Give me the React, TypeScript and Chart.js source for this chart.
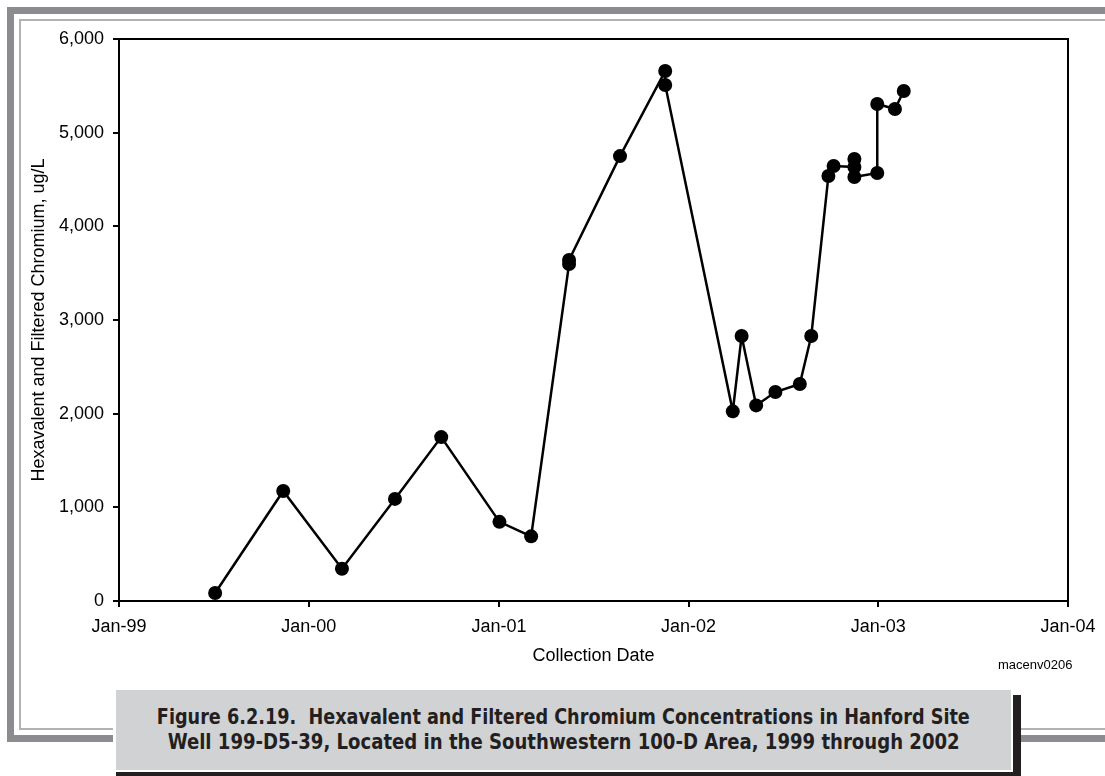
import React, { useEffect, useRef } from "react";
import { Chart, registerables } from "chart.js";

Chart.register(...registerables);

// ---- Data ----
const sampleDates = [
  "1999-07-05",
  "1999-11-13",
  "2000-03-05",
  "2000-06-15",
  "2000-09-12",
  "2001-01-02",
  "2001-03-04",
  "2001-05-16",
  "2001-05-16",
  "2001-08-22",
  "2001-11-17",
  "2001-11-17",
  "2002-03-27",
  "2002-04-13",
  "2002-05-11",
  "2002-06-17",
  "2002-08-03",
  "2002-08-25",
  "2002-09-27",
  "2002-10-07",
  "2002-11-16",
  "2002-11-16",
  "2002-11-16",
  "2002-12-30",
  "2002-12-30",
  "2003-02-02",
  "2003-02-19",
];

const chromiumUgL = [
  85, 1175, 345, 1090, 1750, 845, 690, 3598, 3640, 4750, 5658, 5509, 2025, 2829,
  2088, 2231, 2317, 2829, 4537, 4644, 4633, 4719, 4527, 4569, 5306, 5252, 5445,
];

const xTickYears = [1999, 2000, 2001, 2002, 2003, 2004];
const xTickLabels = ["Jan-99", "Jan-00", "Jan-01", "Jan-02", "Jan-03", "Jan-04"];
const yTickValues = [0, 1000, 2000, 3000, 4000, 5000, 6000];
const yTickLabels = ["0", "1,000", "2,000", "3,000", "4,000", "5,000", "6,000"];

const yAxisTitle = "Hexavalent and Filtered Chromium, ug/L";
const xAxisTitle = "Collection Date";
const figureId = "macenv0206";
const captionLines = [
  "Figure 6.2.19.  Hexavalent and Filtered Chromium Concentrations in Hanford Site",
  "Well 199-D5-39, Located in the Southwestern 100-D Area, 1999 through 2002",
];

const toMs = (s: string) => Date.parse(s + "T00:00:00Z");

const plotFrame = {
  id: "plotFrame",
  afterDraw(chart: any) {
    const { ctx, chartArea } = chart;
    ctx.save();
    ctx.strokeStyle = "#000";
    ctx.lineWidth = 2;
    ctx.beginPath();
    ctx.moveTo(chartArea.left, chartArea.top);
    ctx.lineTo(chartArea.right, chartArea.top);
    ctx.lineTo(chartArea.right, chartArea.bottom);
    ctx.stroke();
    ctx.restore();
  },
};

export default function App() {
  const canvasRef = useRef<HTMLCanvasElement | null>(null);
  const cap1Ref = useRef<HTMLSpanElement | null>(null);
  const cap2Ref = useRef<HTMLSpanElement | null>(null);

  useEffect(() => {
    const fit = (el: HTMLSpanElement | null, target: number) => {
      if (!el) return;
      el.style.transform = "none";
      const w = el.getBoundingClientRect().width;
      if (w > 0) el.style.transform = `scaleX(${target / w})`;
    };
    fit(cap1Ref.current, 813);
    fit(cap2Ref.current, 792);

    const canvas = canvasRef.current;
    if (!canvas) return;
    Chart.defaults.font.family = "'Liberation Sans', Arial, sans-serif";
    const points = sampleDates.map((d, i) => ({ x: toMs(d), y: chromiumUgL[i] }));
    const chart = new Chart(canvas, {
      type: "line",
      data: {
        datasets: [
          {
            data: points,
            borderColor: "#000",
            backgroundColor: "#000",
            borderWidth: 2.5,
            pointRadius: 7,
            pointBorderWidth: 0,
            pointBackgroundColor: "#000",
            pointStyle: "circle",
            tension: 0,
          },
        ],
      },
      options: {
        animation: false,
        responsive: false,
        devicePixelRatio: 1,
        layout: { padding: { left: 0, top: 39, right: 37, bottom: 0 } },
        plugins: { legend: { display: false }, tooltip: { enabled: false } },
        scales: {
          x: {
            type: "linear",
            min: Date.UTC(1999, 0, 1),
            max: Date.UTC(2004, 0, 1),
            afterBuildTicks: (scale: any) => {
              scale.ticks = xTickYears.map((y) => ({ value: Date.UTC(y, 0, 1) }));
            },
            afterFit: (scale: any) => {
              scale.height = 175;
            },
            ticks: {
              autoSkip: false,
              maxRotation: 0,
              padding: 9,
              color: "#000",
              font: { size: 18 },
              callback: (_v: any, i: number) => xTickLabels[i],
            },
            grid: {
              display: true,
              drawOnChartArea: false,
              drawTicks: true,
              tickLength: 6,
              color: "#000",
              lineWidth: 2,
            },
            border: { display: true, color: "#000", width: 2 },
            title: {
              display: true,
              text: xAxisTitle,
              color: "#000",
              font: { size: 18 },
              padding: { top: 0, bottom: 109 },
            },
          },
          y: {
            min: 0,
            max: 6000,
            afterBuildTicks: (scale: any) => {
              scale.ticks = yTickValues.map((v) => ({ value: v }));
            },
            afterFit: (scale: any) => {
              scale.width = 119;
            },
            ticks: {
              padding: 9,
              color: "#000",
              font: { size: 18 },
              callback: (_v: any, i: number) => yTickLabels[i],
            },
            grid: {
              display: true,
              drawOnChartArea: false,
              drawTicks: true,
              tickLength: 6,
              color: "#000",
              lineWidth: 2,
            },
            border: { display: true, color: "#000", width: 2 },
            title: {
              display: true,
              text: yAxisTitle,
              color: "#000",
              font: { size: 18 },
              padding: { top: 28, bottom: 0 },
            },
          },
        },
      },
      plugins: [plotFrame],
    });
    return () => chart.destroy();
  }, []);

  const band = "#8b8c8f";
  const thin = "#b1b2b4";
  const abs = (l: number, t: number, w: number, h: number, bg: string): React.CSSProperties => ({
    position: "absolute",
    left: l,
    top: t,
    width: w,
    height: h,
    background: bg,
  });

  return (
    <div
      style={{
        position: "absolute",
        left: 0,
        top: 0,
        width: 1105,
        height: 776,
        background: "#fff",
        overflow: "hidden",
      }}
    >
      {/* outer thick frame */}
      <div style={abs(7, 7, 1098, 7, band)} />
      <div style={abs(7, 7, 7, 735, band)} />
      <div style={abs(7, 735, 106, 7, band)} />
      <div style={abs(1021, 735, 84, 7, band)} />
      {/* inner thin frame */}
      <div style={abs(19, 19, 1086, 2, thin)} />
      <div style={abs(19, 19, 2, 711, thin)} />
      <div style={abs(19, 728, 94, 2, thin)} />
      <div style={abs(1021, 728, 84, 2, thin)} />

      <canvas
        ref={canvasRef}
        width={1105}
        height={776}
        style={{ position: "absolute", left: 0, top: 0, width: 1105, height: 776 }}
      />

      <div
        style={{
          position: "absolute",
          left: 998,
          top: 657,
          fontFamily: "'Liberation Sans', Arial, sans-serif",
          fontSize: 13,
          color: "#000",
          lineHeight: "16px",
          whiteSpace: "nowrap",
        }}
      >
        {figureId}
      </div>

      {/* caption box with shadow */}
      <div style={abs(116, 695, 905, 90, "#231f20")} />
      <div
        style={{
          position: "absolute",
          left: 114,
          top: 688,
          width: 895,
          height: 80,
          border: "2px solid #fff",
          background: "#d1d2d4",
          display: "flex",
          flexDirection: "column",
          alignItems: "center",
          justifyContent: "center",
          fontFamily: "'Liberation Sans Narrow', 'DejaVu Sans Condensed', 'Liberation Sans', sans-serif",
          fontWeight: "bold",
          fontSize: 21,
          lineHeight: "25px",
          color: "#231f20",
        }}
      >
        <span ref={cap1Ref} style={{ display: "inline-block", whiteSpace: "pre", transformOrigin: "center" }}>
          {captionLines[0]}
        </span>
        <span ref={cap2Ref} style={{ display: "inline-block", whiteSpace: "pre", transformOrigin: "center" }}>
          {captionLines[1]}
        </span>
      </div>
    </div>
  );
}
